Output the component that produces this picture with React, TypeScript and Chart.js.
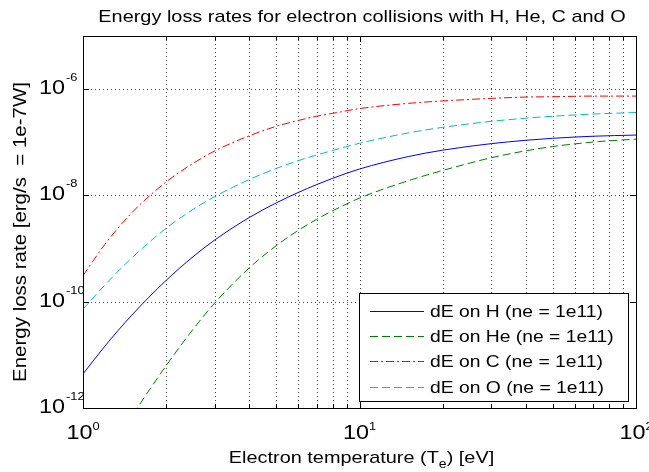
import React, { useEffect, useRef } from 'react';
import { Chart, registerables } from 'chart.js';

Chart.register(...registerables);

// ---------- texts ----------
const chartTitle = 'Energy loss rates for electron collisions with H, He, C and O';
const xLabelParts = ['Electron temperature (T', 'e', ') [eV]'];
const yLabel = 'Energy loss rate [erg/s  = 1e-7W]';

// ---------- data ----------
const temperatures = [1, 1.2, 1.5, 2, 2.5, 3, 4, 5, 6, 7, 8, 10, 15, 20, 30, 40, 50, 70, 100];
const lossH = [4.37e-12, 1.46e-11, 5.56e-11, 2.53e-10, 7.03e-10, 1.46e-9, 3.86e-9, 7.24e-9, 1.135e-8, 1.6e-8, 2.1e-8, 3.14e-8, 5.38e-8, 7.11e-8, 9.44e-8, 1.091e-7, 1.189e-7, 1.3e-7, 1.368e-7];
const lossHe = [2.19e-14, 1.1e-13, 6.9e-13, 6.3e-12, 3.02e-11, 9.55e-11, 4.37e-10, 1.135e-9, 2.19e-9, 3.55e-9, 5.15e-9, 8.91e-9, 1.89e-8, 2.95e-8, 5.13e-8, 6.92e-8, 8.32e-8, 1.01e-7, 1.15e-7];
const lossC = [3.1e-10, 1.2e-9, 4.7e-9, 1.8e-8, 4.0e-8, 6.9e-8, 1.33e-7, 2.0e-7, 2.57e-7, 3.09e-7, 3.5e-7, 4.3e-7, 5.4e-7, 6.0e-7, 6.7e-7, 7.1e-7, 7.2e-7, 7.4e-7, 7.4e-7];
const lossO = [7.24e-11, 2.07e-10, 6.64e-10, 2.42e-9, 5.45e-9, 9.57e-9, 2.0e-8, 3.22e-8, 4.5e-8, 5.77e-8, 7.01e-8, 9.59e-8, 1.5e-7, 1.91e-7, 2.48e-7, 2.84e-7, 3.09e-7, 3.4e-7, 3.63e-7];
const seriesLabels = ['dE on H (ne = 1e11)', 'dE on He (ne = 1e11)', 'dE on C (ne = 1e11)', 'dE on O (ne = 1e11)'];

// ---------- axes ----------
const xMin = 1;
const xMax = 100;
const yMin = 1e-12;
const yMax = 1e-5;
const xGridValues = [2, 3, 4, 5, 6, 7, 8, 9, 10, 20, 30, 40, 50, 60, 70, 80, 90];
const xMajorValues = [1, 10, 100];
const xMajorExponents = ['0', '1', '2'];
const yMajorValues = [1e-12, 1e-10, 1e-8, 1e-6];
const yMajorExponents = ['-12', '-10', '-8', '-6'];

const FONT = '"Liberation Sans", Arial, Helvetica, sans-serif';
const SX = 1.17;

type Part = { text: string; size: number; dy: number };

function partsWidth(ctx: CanvasRenderingContext2D, parts: Part[]) {
  let w = 0;
  for (const p of parts) {
    ctx.font = `${p.size}px ${FONT}`;
    w += ctx.measureText(p.text).width * SX;
  }
  return w;
}

function drawParts(ctx: CanvasRenderingContext2D, parts: Part[], x: number, y: number, align: 'left' | 'center' | 'right') {
  const total = partsWidth(ctx, parts);
  let cx = align === 'left' ? x : align === 'center' ? x - total / 2 : x - total;
  ctx.textAlign = 'left';
  ctx.textBaseline = 'alphabetic';
  for (const p of parts) {
    ctx.font = `${p.size}px ${FONT}`;
    const w = ctx.measureText(p.text).width * SX;
    ctx.save();
    ctx.translate(cx, y + p.dy);
    ctx.scale(SX, 1);
    ctx.fillText(p.text, 0, 0);
    ctx.restore();
    cx += w;
  }
}

const framePlugin = {
  id: 'matlabFrame',
  beforeDraw(chart: any) {
    const ctx = chart.ctx as CanvasRenderingContext2D;
    ctx.save();
    ctx.fillStyle = '#ffffff';
    ctx.fillRect(0, 0, chart.width, chart.height);
    ctx.restore();
  },
  beforeDatasetsDraw(chart: any) {
    const ctx = chart.ctx as CanvasRenderingContext2D;
    const { left, right, top, bottom } = chart.chartArea;
    const xs = chart.scales.x;
    const ys = chart.scales.y;
    ctx.save();
    ctx.strokeStyle = '#444444';
    ctx.lineWidth = 1;
    ctx.setLineDash([1, 3]);
    for (const v of xGridValues) {
      const px = Math.round(xs.getPixelForValue(v)) + 0.5;
      ctx.beginPath();
      ctx.moveTo(px, top);
      ctx.lineTo(px, bottom);
      ctx.stroke();
    }
    for (const v of yMajorValues) {
      if (v === yMin) continue;
      const py = Math.round(ys.getPixelForValue(v)) + 0.5;
      ctx.beginPath();
      ctx.moveTo(left, py);
      ctx.lineTo(right, py);
      ctx.stroke();
    }
    ctx.restore();
  },
  afterDatasetsDraw(chart: any) {
    const ctx = chart.ctx as CanvasRenderingContext2D;
    const { left, right, top, bottom } = chart.chartArea;
    const xs = chart.scales.x;
    const ys = chart.scales.y;
    ctx.save();
    // box
    ctx.strokeStyle = '#000000';
    ctx.lineWidth = 1;
    ctx.setLineDash([]);
    ctx.strokeRect(Math.round(left) + 0.5, Math.round(top) + 0.5, Math.round(right - left), Math.round(bottom - top));
    // x ticks (inward, top & bottom)
    const allX = [1, ...xGridValues, 100];
    for (const v of allX) {
      const px = Math.round(xs.getPixelForValue(v)) + 0.5;
      const len = xMajorValues.includes(v) ? 6 : 4;
      ctx.beginPath();
      ctx.moveTo(px, bottom);
      ctx.lineTo(px, bottom - len);
      ctx.moveTo(px, top);
      ctx.lineTo(px, top + len);
      ctx.stroke();
    }
    // y ticks
    for (const v of yMajorValues) {
      const py = Math.round(ys.getPixelForValue(v)) + 0.5;
      ctx.beginPath();
      ctx.moveTo(left, py);
      ctx.lineTo(left + 6, py);
      ctx.moveTo(right, py);
      ctx.lineTo(right - 6, py);
      ctx.stroke();
    }

    ctx.fillStyle = '#000000';
    // x tick labels
    xMajorValues.forEach((v, i) => {
      const px = xs.getPixelForValue(v);
      drawParts(ctx, [
        { text: '10', size: 20, dy: 0 },
        { text: xMajorExponents[i], size: 11, dy: -9 },
      ], px, bottom + 31, 'center');
    });
    // y tick labels
    yMajorValues.forEach((v, i) => {
      const py = ys.getPixelForValue(v);
      drawParts(ctx, [{ text: '10', size: 20, dy: 0 }], left - 18, py + 5, 'right');
      drawParts(ctx, [{ text: yMajorExponents[i], size: 11, dy: 0 }], left - 17, py - 8, 'left');
    });

    // title
    drawParts(ctx, [{ text: chartTitle, size: 17, dy: 0 }], 362, 22, 'center');
    // x label
    drawParts(ctx, [
      { text: xLabelParts[0], size: 17, dy: 0 },
      { text: xLabelParts[1], size: 12, dy: 5 },
      { text: xLabelParts[2], size: 17, dy: 0 },
    ], (left + right) / 2 + 2, 463, 'center');
    // y label
    ctx.save();
    ctx.translate(26, (top + bottom) / 2 + 10);
    ctx.rotate(-Math.PI / 2);
    drawParts(ctx, [{ text: yLabel, size: 17.5, dy: 0 }], 0, 0, 'center');
    ctx.restore();

    // legend
    const lw = 269;
    const lh = 108;
    const lx = Math.round(right) - 277;
    const ly = Math.round(bottom) - 115;
    ctx.fillStyle = '#ffffff';
    ctx.fillRect(lx, ly, lw, lh);
    ctx.strokeStyle = '#000000';
    ctx.strokeRect(lx + 0.5, ly + 0.5, lw, lh);
    chart.data.datasets.forEach((ds: any, i: number) => {
      const cy = ly + 18 + i * 25.2;
      ctx.save();
      ctx.strokeStyle = ds.borderColor;
      ctx.lineWidth = 1;
      ctx.setLineDash(ds.borderDash || []);
      ctx.beginPath();
      ctx.moveTo(lx + 11, Math.round(cy) + 0.5);
      ctx.lineTo(lx + 65, Math.round(cy) + 0.5);
      ctx.stroke();
      ctx.restore();
      ctx.fillStyle = '#000000';
      drawParts(ctx, [{ text: ds.label, size: 16.5, dy: 0 }], lx + 71, cy + 6, 'left');
    });
    ctx.restore();
  },
};

function toPoints(values: number[]) {
  return temperatures.map((t, i) => ({ x: t, y: values[i] }));
}

export default function App() {
  const canvasRef = useRef<HTMLCanvasElement | null>(null);

  useEffect(() => {
    document.body.style.margin = '0';
    const canvas = canvasRef.current;
    if (!canvas) return;
    const chart = new Chart(canvas, {
      type: 'line',
      data: {
        datasets: [
          { label: seriesLabels[0], data: toPoints(lossH), borderColor: '#0000ff', borderWidth: 1, borderDash: [], pointRadius: 0, fill: false, cubicInterpolationMode: 'monotone' },
          { label: seriesLabels[1], data: toPoints(lossHe), borderColor: '#008000', borderWidth: 1, borderDash: [8, 4], pointRadius: 0, fill: false, cubicInterpolationMode: 'monotone' },
          { label: seriesLabels[2], data: toPoints(lossC), borderColor: '#ff0000', borderWidth: 1, borderDash: [8, 3, 2, 3], pointRadius: 0, fill: false, cubicInterpolationMode: 'monotone' },
          { label: seriesLabels[3], data: toPoints(lossO), borderColor: '#00bfbf', borderWidth: 1, borderDash: [8, 4], pointRadius: 0, fill: false, cubicInterpolationMode: 'monotone' },
        ] as any,
      },
      options: {
        responsive: false,
        animation: false,
        devicePixelRatio: 1,
        layout: { padding: { left: 83, right: 13, top: 36, bottom: 64 } },
        scales: {
          x: { type: 'logarithmic', min: xMin, max: xMax, display: false },
          y: { type: 'logarithmic', min: yMin, max: yMax, display: false },
        },
        plugins: {
          legend: { display: false },
          title: { display: false },
          tooltip: { enabled: false },
        },
      } as any,
      plugins: [framePlugin],
    });
    return () => chart.destroy();
  }, []);

  return (
    <div style={{ width: 649, height: 472, overflow: 'hidden' }}>
      <canvas ref={canvasRef} width={649} height={472} style={{ display: 'block', width: 649, height: 472 }} />
    </div>
  );
}
